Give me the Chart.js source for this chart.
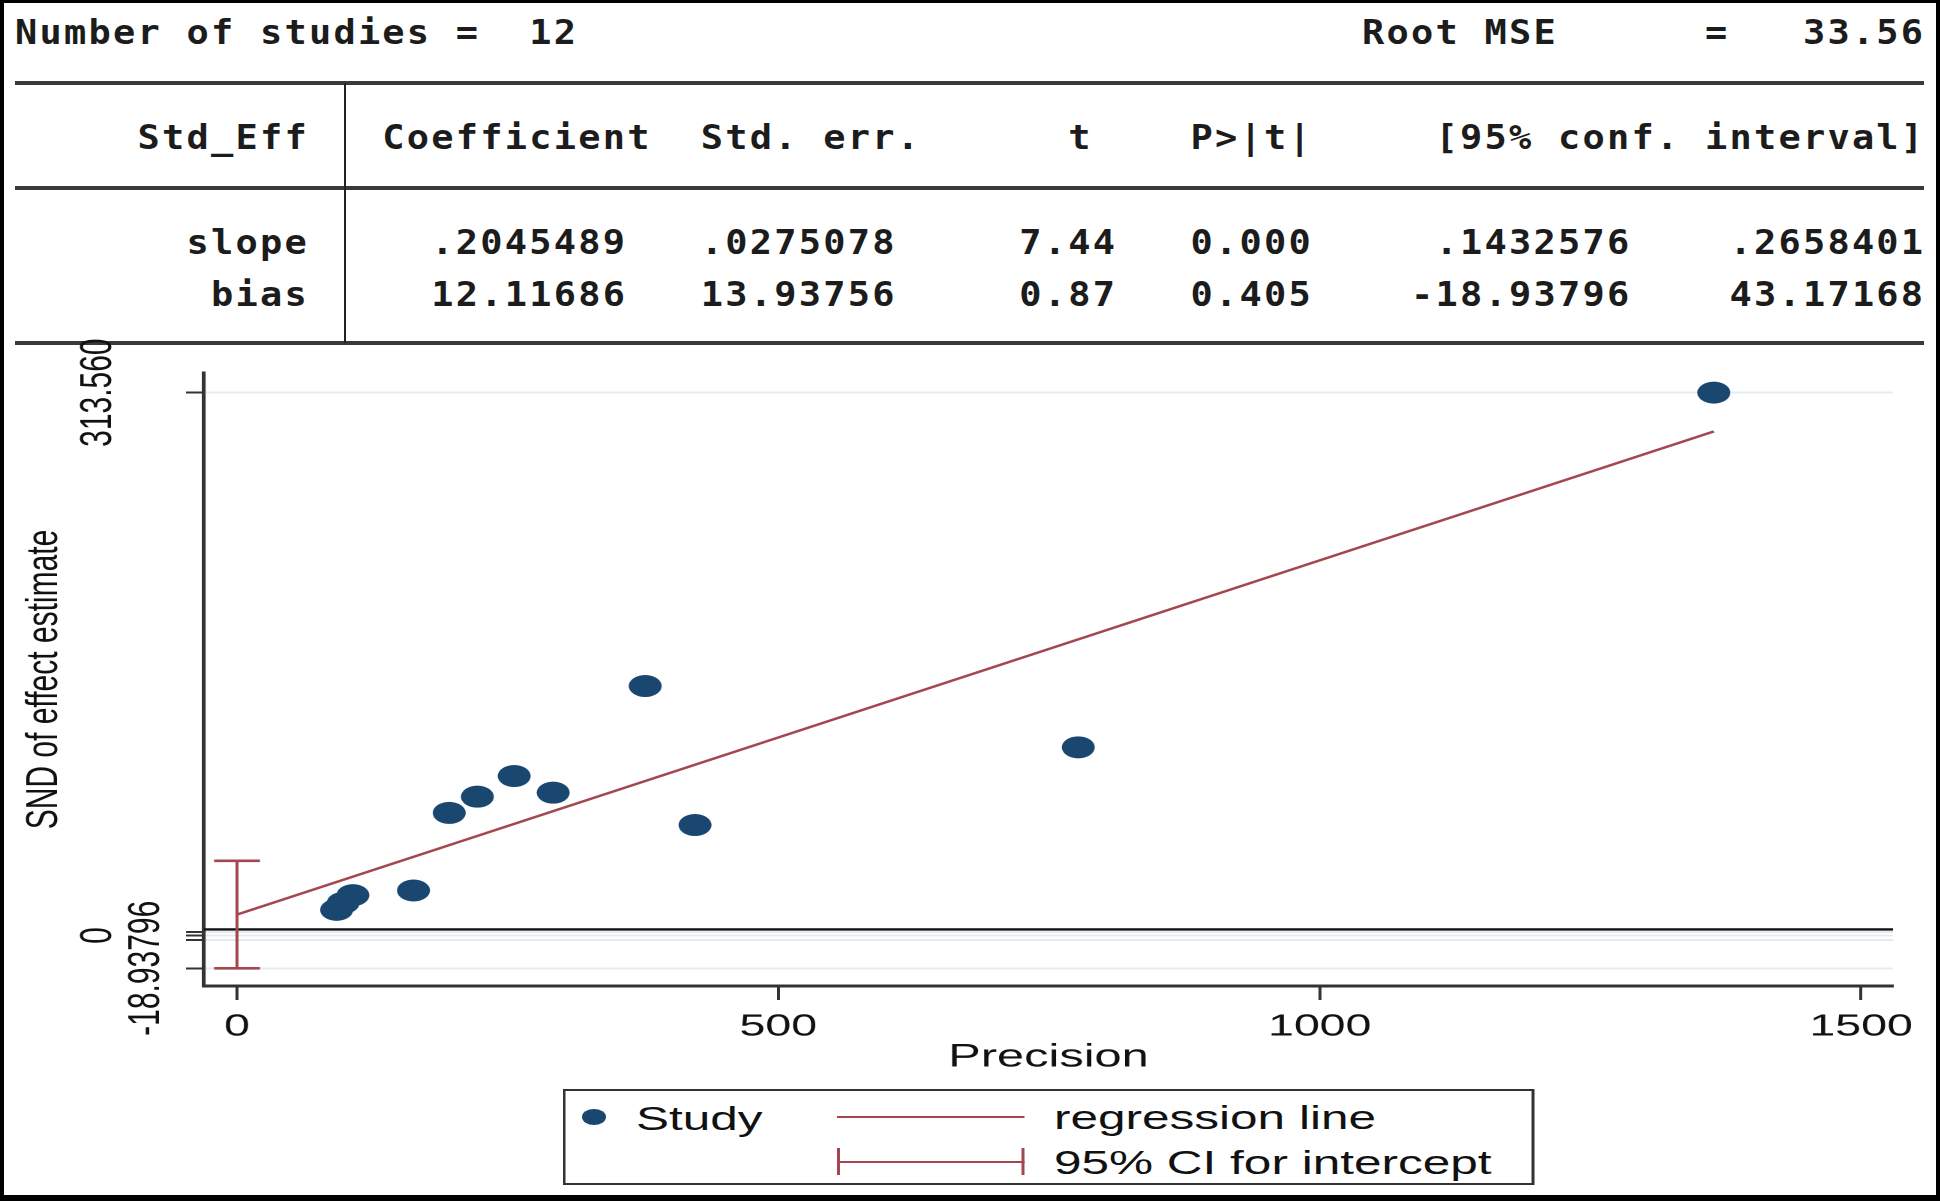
<!DOCTYPE html>
<html>
<head>
<meta charset="utf-8">
<script src="https://cdn.jsdelivr.net/npm/chart.js@4.4.1/dist/chart.umd.min.js"></script>
<style>
html,body{margin:0;padding:0;background:#fff;}
body{width:1940px;height:1201px;position:relative;overflow:hidden;}
#frame{position:absolute;left:0;top:0;width:1940px;height:1201px;box-sizing:border-box;border-style:solid;border-color:#000;border-width:3px 4px 6px 4px;z-index:10;pointer-events:none;}
#tbl{position:absolute;left:0;top:0;width:1732px;height:350px;transform:scaleX(1.12);transform-origin:0 0;}
#tbl pre{position:absolute;left:13.4px;margin:0;font-family:"DejaVu Sans Mono",monospace;font-weight:bold;font-size:33px;line-height:32px;letter-spacing:2.0px;color:#1c1c1c;white-space:pre;}
.hl{position:absolute;left:15px;width:1909px;height:4px;background:#3a3a3a;}
.vl{position:absolute;left:344px;width:2px;top:83px;height:260px;background:#222;}
#g{position:absolute;left:0;top:0;width:1293.3333px;height:1201px;transform:scaleX(1.5);transform-origin:0 0;}
#g canvas{position:absolute;left:0;top:0;}
#leg{position:absolute;left:375.3px;top:1089px;width:648px;height:96px;box-sizing:border-box;border:2px solid #333;background:#fff;}
#leg .t{position:absolute;font-family:"Liberation Sans",Arial,sans-serif;font-size:33px;line-height:32px;color:#111;white-space:pre;}
#leg .dot{position:absolute;left:10.7px;top:18px;width:16px;height:16px;border-radius:50%;}
#leg .ln{position:absolute;left:180.7px;width:124.7px;height:2.6px;}
#leg .cap{position:absolute;top:57px;width:2px;height:27px;}
</style>
</head>
<body>
<div id="tbl"></div>
<div class="hl" style="top:81px"></div>
<div class="hl" style="top:186px"></div>
<div class="hl" style="top:341px"></div>
<div class="vl"></div>
<div id="g">
  <canvas id="c" width="1293" height="1201" style="width:1293.3333px;height:1201px"></canvas>
  <div id="leg">
    <div class="dot" id="legDot"></div>
    <div class="t" style="left:46.7px;top:12.0px" id="legT0"></div>
    <div class="ln" id="legReg" style="top:24.7px"></div>
    <div class="t" style="left:325.4px;top:11.0px" id="legT1"></div>
    <div class="ln" id="legCi" style="top:69.7px"></div>
    <div class="cap" id="legCapL" style="left:180.7px"></div>
    <div class="cap" id="legCapR" style="left:303.4px"></div>
    <div class="t" style="left:325.4px;top:56.0px" id="legT2"></div>
  </div>
</div>
<div id="frame"></div>
<script>
// ---- table data (regression output) ----
const studiesCount = '12';
const rootMSE = '33.56';
const tableHeaders = ['Std_Eff', 'Coefficient', 'Std. err.', 't', 'P>|t|', '[95% conf. interval]'];
const rowNames = ['slope', 'bias'];
const coefCol = ['.2045489', '12.11686'];
const seCol = ['.0275078', '13.93756'];
const tCol = ['7.44', '0.87'];
const pCol = ['0.000', '0.405'];
const ciLowCol = ['.1432576', '-18.93796'];
const ciHighCol = ['.2658401', '43.17168'];

// ---- chart data ----
const precision = [1364, 377, 777, 256, 222, 196, 292, 423, 163, 107, 98, 92];
const stdEff = [313.56, 144.1, 108.7, 92.1, 80.2, 70.8, 82.5, 63.8, 26.0, 23.3, 18.8, 14.8];
const xTickValues = [0, 500, 1000, 1500];
const yTickValues = [-18.93796, -2.6, 0, 2.1, 313.56];
const yOuterLabelValues = [313.56, 0];
const yOuterLabelTexts = ['313.560', '0'];
const yInnerLabelValues = [-18.93796];
const yInnerLabelTexts = ['-18.93796'];
const legendLabels = ['Study', 'regression line', '95% CI for intercept'];
const xRange = [-30.5, 1529.5];
const yRange = [-29.16, 324.9];
const refLineY = 3.5;

const slope = parseFloat(coefCol[0]);
const bias = parseFloat(coefCol[1]);
const ciLow = parseFloat(ciLowCol[1]);
const ciHigh = parseFloat(ciHighCol[1]);

const NAVY = '#1a476f';
const RED = '#a4464f';
const FONT = '"Liberation Sans", Arial, sans-serif';

// ---- build table text ----
(function () {
  const tbl = document.getElementById('tbl');
  const lines = [];
  const top = 'Number of studies =  ' + studiesCount;
  lines.push(top + ' '.repeat(55 - top.length) + 'Root MSE' + ' '.repeat(6) + '=' + rootMSE.padStart(8));
  lines.push(tableHeaders[0].padStart(12) + '  ' + tableHeaders[1].padStart(12) + tableHeaders[2].padStart(11) +
             tableHeaders[3].padStart(7) + tableHeaders[4].padStart(9) + tableHeaders[5].padStart(25));
  rowNames.forEach((n, i) => {
    lines.push(n.padStart(12) + '  ' + coefCol[i].padStart(11) + seCol[i].padStart(11) + tCol[i].padStart(9) +
               pCol[i].padStart(8) + ciLowCol[i].padStart(13) + ciHighCol[i].padStart(12));
  });
  const tops = [16.5, 121.5, 226.8, 278.8];
  lines.forEach((s, i) => {
    const p = document.createElement('pre');
    p.textContent = s;
    p.style.top = tops[i] + 'px';
    tbl.appendChild(p);
  });
})();

// ---- legend ----
document.getElementById('legDot').style.background = NAVY;
document.getElementById('legReg').style.background = RED;
document.getElementById('legCi').style.background = RED;
document.getElementById('legCapL').style.background = RED;
document.getElementById('legCapR').style.background = RED;
document.getElementById('legT0').textContent = legendLabels[0];
document.getElementById('legT1').textContent = legendLabels[1];
document.getElementById('legT2').textContent = legendLabels[2];

// ---- rotated y tick labels, placed through the y scale ----
const yLabelPlugin = {
  id: 'yLabels',
  afterDraw(chart) {
    const s = chart.scales.y;
    const c = chart.ctx;
    c.save();
    c.font = '30px ' + FONT;
    c.fillStyle = '#111';
    c.textAlign = 'center';
    c.textBaseline = 'middle';
    const draw = (vals, texts, x) => vals.forEach((v, i) => {
      const y = s.getPixelForValue(v);
      c.save();
      c.translate(x, y);
      c.rotate(-Math.PI / 2);
      c.fillText(texts[i], 0, 0);
      c.restore();
    });
    draw(yOuterLabelValues, yOuterLabelTexts, s.right - 70.3);
    draw(yInnerLabelValues, yInnerLabelTexts, s.right - 38.3);
    c.restore();
  }
};

const xMaxPrec = Math.max(...precision);

new Chart(document.getElementById('c'), {
  type: 'scatter',
  data: {
    datasets: [
      {
        type: 'line', label: legendLabels[2],
        data: [{ x: 0, y: ciLow }, { x: 0, y: ciHigh }],
        borderColor: RED, borderWidth: 2, showLine: true, fill: false,
        pointStyle: 'line', pointRadius: 15.3, pointHoverRadius: 15.3,
        pointBorderWidth: 2.6, pointBorderColor: RED, pointBackgroundColor: RED
      },
      {
        type: 'line', label: legendLabels[1],
        data: [{ x: 0, y: bias }, { x: xMaxPrec, y: bias + slope * xMaxPrec }],
        borderColor: RED, borderWidth: 2.4, pointRadius: 0, fill: false
      },
      {
        type: 'scatter', label: legendLabels[0],
        data: precision.map((x, i) => ({ x: x, y: stdEff[i] })),
        pointRadius: 11, pointHoverRadius: 11, backgroundColor: NAVY, borderColor: NAVY, borderWidth: 0
      },
      {
        type: 'line', label: 'reference',
        data: [{ x: xRange[0], y: refLineY }, { x: xRange[1], y: refLineY }],
        borderColor: '#111', borderWidth: 2.4, pointRadius: 0, fill: false
      }
    ]
  },
  options: {
    responsive: false,
    devicePixelRatio: 2,
    animation: false,
    layout: { padding: { left: 0, right: 31, top: 373, bottom: 115 }, autoPadding: false },
    plugins: { legend: { display: false }, tooltip: { enabled: false } },
    events: [],
    scales: {
      x: {
        type: 'linear', min: xRange[0], max: xRange[1],
        afterBuildTicks: s => { s.ticks = xTickValues.map(v => ({ value: v })); },
        afterFit: s => { s.height = 100; s.paddingLeft = 0; s.paddingRight = 0; },
        grid: { drawOnChartArea: false, drawTicks: true, tickLength: 14, tickColor: '#333', tickWidth: 2 },
        border: { display: true, color: '#333', width: 3 },
        ticks: { font: { family: FONT, size: 31 }, color: '#111', padding: 8.5, maxRotation: 0, minRotation: 0, autoSkip: false,
                 callback: v => String(v) },
        title: { display: true, text: 'Precision', font: { family: FONT, size: 32.5 }, color: '#111', padding: { top: 0, bottom: 9 } }
      },
      y: {
        type: 'linear', min: yRange[0], max: yRange[1],
        afterBuildTicks: s => { s.ticks = yTickValues.map(v => ({ value: v })); },
        afterFit: s => { s.width = 136; s.paddingTop = 0; s.paddingBottom = 0; },
        grid: { color: '#e3edf1', lineWidth: 2, drawTicks: true, tickLength: 12, tickColor: '#333', tickWidth: 2 },
        border: { display: true, color: '#333', width: 2.6 },
        ticks: { display: false },
        title: { display: true, text: 'SND of effect estimate', font: { family: FONT, size: 30 }, color: '#111', padding: { top: 11.5, bottom: 0 } }
      }
    }
  },
  plugins: [yLabelPlugin]
});
</script>
</body>
</html>
